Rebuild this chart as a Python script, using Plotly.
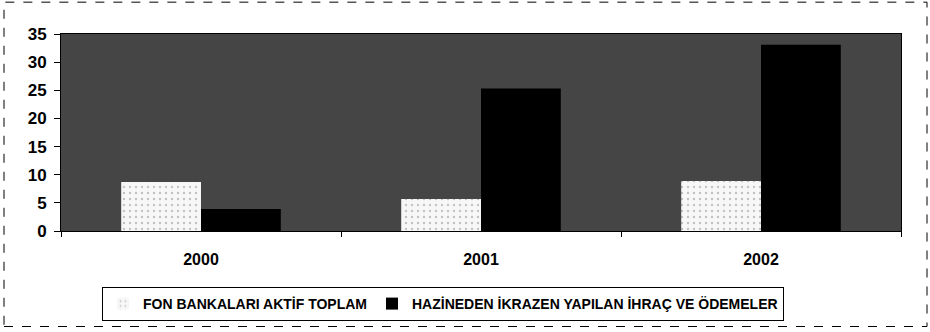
import plotly.graph_objects as go

years = ["2000", "2001", "2002"]
fon_bankalari = [8.7, 5.7, 8.9]
hazine_ikraz = [3.9, 25.3, 33.1]
series_names = [
    "FON BANKALARI AKTİF TOPLAM",
    "HAZİNEDEN İKRAZEN YAPILAN İHRAÇ VE ÖDEMELER",
]
y_ticks = [0, 5, 10, 15, 20, 25, 30, 35]

W, H = 930, 332
L, R, T, B = 61, 29, 34, 100
pw, ph = W - L - R, H - T - B
FONT = "Liberation Sans, Arial, sans-serif"


def px(x):
    return (x - L) / pw


def py(y):
    return (H - B - y) / ph


fig = go.Figure()
fig.add_trace(go.Bar(
    x=years, y=fon_bankalari, name=series_names[0],
    marker=dict(color="#f4f4f4", line=dict(width=0),
                pattern=dict(shape=".", fgcolor="#8a8a8a", bgcolor="#f7f7f7",
                             size=6, solidity=0.12)),
))
fig.add_trace(go.Bar(
    x=years, y=hazine_ikraz, name=series_names[1],
    marker=dict(color="#000000", line=dict(width=0)),
))

fig.update_layout(
    width=W, height=H,
    margin=dict(l=L, r=R, t=T, b=B),
    paper_bgcolor="white",
    plot_bgcolor="#454545",
    barmode="group", bargap=0.43, bargroupgap=0,
    font=dict(family=FONT, color="black"),
    showlegend=True,
    legend=dict(
        orientation="h", x=px(443), xanchor="center", y=py(287), yanchor="top",
        bgcolor="white", bordercolor="black", borderwidth=1,
        font=dict(size=14, family=FONT, weight="bold"),
        itemwidth=30, tracegroupgap=0,
    ),
    xaxis=dict(
        type="category", tickson="boundaries", ticks="outside", ticklen=5,
        tickcolor="black", showline=True, linecolor="black", linewidth=1,
        mirror=True, showgrid=False, ticklabelstandoff=14,
        tickfont=dict(size=16, family=FONT, weight="bold"),
    ),
    yaxis=dict(
        range=[0, 35], tickvals=y_ticks, ticks="outside", ticklen=6,
        tickcolor="black", showline=True, linecolor="black", linewidth=1,
        mirror=True, showgrid=False, zeroline=False, ticklabelstandoff=4,
        tickfont=dict(size=17, family=FONT, weight="bold"),
    ),
)

# dashed outer frame around the whole chart
fig.add_shape(
    type="rect", xref="paper", yref="paper",
    x0=px(4), x1=px(927), y0=py(328), y1=py(2),
    line=dict(color="black", width=1, dash="dash"), fillcolor="rgba(0,0,0,0)",
    layer="above",
)

fig.write_html("out.html")
